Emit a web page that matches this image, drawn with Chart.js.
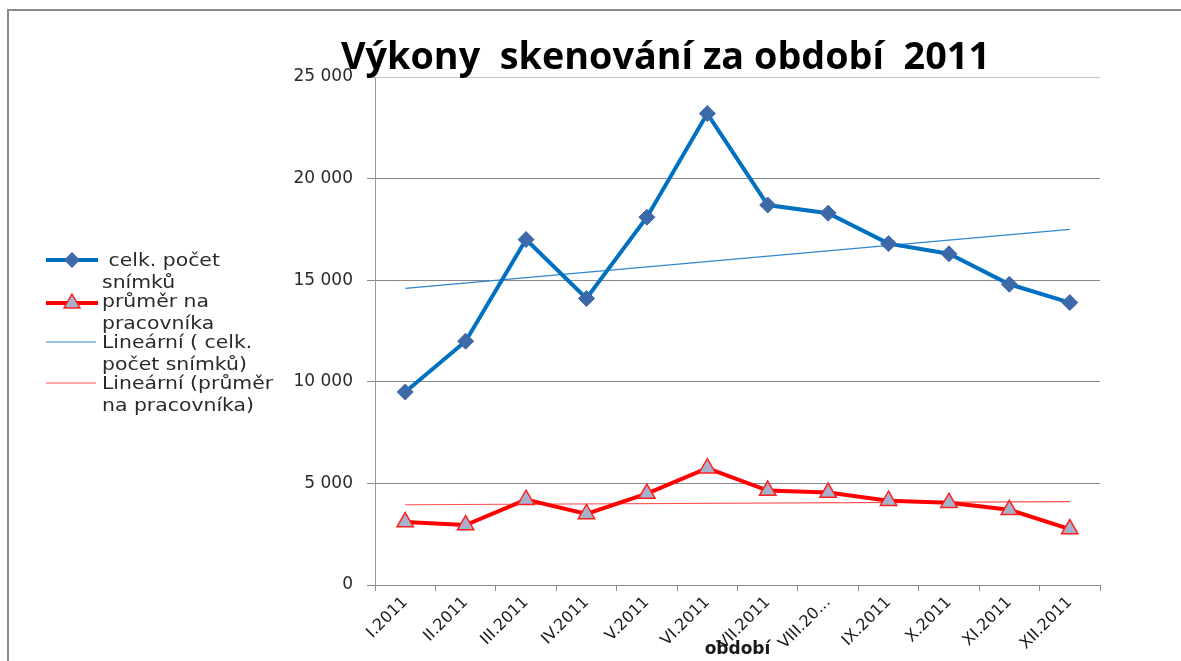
<!DOCTYPE html>
<html>
<head>
<meta charset="utf-8">
<script src="https://cdn.jsdelivr.net/npm/chart.js@4/dist/chart.umd.min.js"></script>
<style>
  html, body { margin: 0; padding: 0; background: #fff; }
  #wrap { position: relative; width: 1181px; height: 661px; overflow: hidden; }
  #frame { position: absolute; left: 7px; top: 9px; width: 1200px; height: 700px;
           border-left: 2px solid #8c8c8c; border-top: 2px solid #8c8c8c; }
  canvas { position: absolute; left: 0; top: 0; }
  #title { position: absolute; left: 341px; top: 33px; font-family: "Open Sans", sans-serif;
           font-weight: bold; font-size: 37px; line-height: 44px; color: #000; white-space: pre;
           transform-origin: 0 0; }
  #legend { position: absolute; left: 45px; top: 249px; font-family: "DejaVu Sans", sans-serif;
            font-size: 17px; color: #2a2a2a; }
  .item { position: relative; height: 41px; }
  .item svg { position: absolute; left: 0; top: 3px; }
  .item .txt { position: absolute; left: 57px; top: 0; line-height: 22px; white-space: pre;
               transform: scaleX(1.2); transform-origin: 0 0; }
</style>
</head>
<body>
<div id="wrap">
  <div id="frame"></div>
  <canvas id="c" width="1181" height="661"></canvas>
  <div id="title">Výkony  skenování za období  2011</div>
  <div id="legend"></div>
</div>
<script>
const categories = ['I.2011','II.2011','III.2011','IV.2011','V.2011','VI.2011','VII.2011','VIII.2011','IX.2011','X.2011','XI.2011','XII.2011'];
const tickLabels = ['I.2011','II.2011','III.2011','IV.2011','V.2011','VI.2011','VII.2011','VIII.20...','IX.2011','X.2011','XI.2011','XII.2011'];
const totalScans = [9500, 12000, 17000, 14100, 18100, 23200, 18700, 18300, 16800, 16300, 14800, 13900];
const avgPerWorker = [3100, 2950, 4200, 3500, 4500, 5750, 4650, 4550, 4150, 4050, 3700, 2750];
const trendTotal = [14600, null, null, null, null, null, null, null, null, null, null, 17500];
const trendAvg = [3950, null, null, null, null, null, null, null, null, null, null, 4100];
const yTicks = [0, 5000, 10000, 15000, 20000, 25000];
const seriesNames = [' celk. počet\nsnímků', 'průměr na\npracovníka', 'Lineární ( celk.\npočet snímků)', 'Lineární (průměr\nna pracovníka)'];
const xTitle = 'období';

const fmt = v => String(v).replace(/\B(?=(\d{3})+(?!\d))/g, ' ');

new Chart(document.getElementById('c'), {
  type: 'line',
  data: {
    labels: categories,
    datasets: [
      { label: seriesNames[0], data: totalScans, borderColor: '#0070C0', borderWidth: 4,
        pointStyle: 'rectRot', pointRadius: 8, pointBackgroundColor: '#3E69A8',
        pointBorderColor: '#3E69A8', pointBorderWidth: 1, tension: 0 },
      { label: seriesNames[1], data: avgPerWorker, borderColor: '#FF0000', borderWidth: 4,
        pointStyle: 'triangle', pointRadius: 9.5, pointBackgroundColor: '#A6B2CC',
        pointBorderColor: '#FF2020', pointBorderWidth: 1.5, tension: 0 },
      { label: seriesNames[2], data: trendTotal, borderColor: '#2F86CF', borderWidth: 1.2,
        pointRadius: 0, spanGaps: true },
      { label: seriesNames[3], data: trendAvg, borderColor: '#FF5050', borderWidth: 1.2,
        pointRadius: 0, spanGaps: true }
    ]
  },
  options: {
    responsive: false,
    animation: false,
    devicePixelRatio: 1,
    layout: { padding: { left: 290, right: 81, top: 77, bottom: 0 } },
    plugins: { legend: { display: false }, tooltip: { enabled: false }, title: { display: false } },
    scales: {
      x: {
        offset: true,
        grid: { offset: true, drawOnChartArea: false, drawTicks: true, tickLength: 6, color: '#8a8a8a' },
        border: { display: true, color: '#8a8a8a', width: 1 },
        ticks: { autoSkip: false, maxRotation: 45, minRotation: 45, padding: 2, color: '#1a1a1a',
                 font: { family: 'DejaVu Sans', size: 16 },
                 callback: (v, i) => tickLabels[i] },
        title: { display: true, text: xTitle, color: '#1a1a1a', padding: { top: 0, bottom: 1 },
                 font: { family: 'DejaVu Sans', size: 17, weight: 'bold' } },
        afterFit: s => { s.height = 76; }
      },
      y: {
        min: 0, max: 25000,
        afterBuildTicks: s => { s.ticks = yTicks.map(v => ({ value: v })); },
        grid: { color: ctx => (ctx.tick && ctx.tick.value === 25000) ? '#c4c4c4' : '#8a8a8a',
                tickLength: 8, lineWidth: 1 },
        border: { display: true, color: '#9a9a9a', width: 1 },
        ticks: { padding: 14, color: '#2a2a2a', font: { family: 'DejaVu Sans', size: 17 },
                 callback: v => fmt(v) },
        afterFit: s => { s.width = 85; }
      }
    }
  }
});

// Title width fit
const t = document.getElementById('title');
const w = t.getBoundingClientRect().width;
t.style.transform = 'scaleX(' + (649 / w) + ')';

// HTML legend
const sym = [
  '<svg width="54" height="16"><line x1="1" y1="8" x2="53" y2="8" stroke="#0070C0" stroke-width="4"/><polygon points="27,0 35,8 27,16 19,8" fill="#3E69A8"/></svg>',
  '<svg width="54" height="18"><line x1="1" y1="10" x2="53" y2="10" stroke="#FF0000" stroke-width="4"/><polygon points="27,1 35,15 19,15" fill="#A6B2CC" stroke="#FF2020" stroke-width="1.5"/></svg>',
  '<svg width="54" height="16"><line x1="1" y1="8" x2="51" y2="8" stroke="#2F86CF" stroke-width="1.2"/></svg>',
  '<svg width="54" height="16"><line x1="1" y1="8" x2="51" y2="8" stroke="#FF5050" stroke-width="1.2"/></svg>'
];
const lg = document.getElementById('legend');
seriesNames.forEach((n, i) => {
  const d = document.createElement('div');
  d.className = 'item';
  d.innerHTML = sym[i] + '<div class="txt"></div>';
  d.querySelector('.txt').textContent = n;
  lg.appendChild(d);
});
</script>
</body>
</html>
